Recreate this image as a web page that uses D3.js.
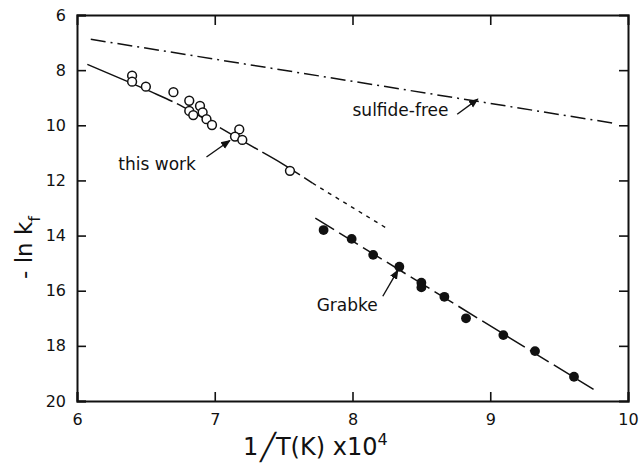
<!DOCTYPE html>
<html>
<head>
<meta charset="utf-8">
<script src="https://cdn.jsdelivr.net/npm/d3@7"></script>
<style>
  body { margin: 0; background: #fff; }
  text { font-family: "DejaVu Sans", sans-serif; fill: #111; }
</style>
</head>
<body>
<div id="grafico"></div>
<script>
// puntos "this work" (circulos abiertos)
let this_x = [6.40, 6.40, 6.50, 6.70, 6.815, 6.815, 6.893, 6.844, 6.912, 6.94, 6.98, 7.178, 7.147, 7.20, 7.546];
let this_y = [8.20, 8.42, 8.60, 8.80, 9.11, 9.48, 9.30, 9.63, 9.53, 9.78, 9.99, 10.15, 10.41, 10.53, 11.65];

// puntos Grabke (circulos rellenos)
let grabke_x = [7.79, 7.994, 8.15, 8.34, 8.50, 8.50, 8.667, 8.824, 9.095, 9.325, 9.608];
let grabke_y = [13.80, 14.12, 14.70, 15.13, 15.71, 15.88, 16.22, 17.00, 17.61, 18.19, 19.12];

// curvas
let ajuste_x = [6.075, 6.536, 6.77, 7.23, 7.486, 7.71];
let ajuste_y = [7.79, 8.78, 9.33, 10.65, 11.38, 12.10];
let extrap_x = [7.71, 8.24];
let extrap_y = [12.10, 13.71];
let grabke_lx = [7.73, 9.75];
let grabke_ly = [13.37, 19.58];
let libre_x = [6.10, 9.89];
let libre_y = [6.88, 9.92];

let ticks_x = [6, 7, 8, 9, 10];
let ticks_y = [6, 8, 10, 12, 14, 16, 18, 20];

let margin = {top: 15, right: 15, bottom: 64, left: 77},
    width = 643 - margin.left - margin.right,
    height = 465 - margin.top - margin.bottom;

let svg = d3.select("#grafico")
    .append("svg")
    .attr("width", 643)
    .attr("height", 465)
    .append("g")
    .attr("transform", "translate(" + margin.left + "," + margin.top + ")");

let x = d3.scaleLinear().domain([6, 10]).range([0, width]);
let y = d3.scaleLinear().domain([6, 20]).range([0, height]);

// ejes con ticks hacia dentro
svg.append("g")
    .attr("transform", "translate(0," + height + ")")
    .call(d3.axisBottom(x).tickValues(ticks_x).tickSize(-9).tickPadding(13).tickFormat(d3.format("d")));
svg.append("g")
    .call(d3.axisTop(x).tickValues(ticks_x.slice(1, -1)).tickSize(-10).tickFormat(""));
svg.append("g")
    .call(d3.axisLeft(y).tickValues(ticks_y).tickSize(-9).tickPadding(11).tickFormat(d3.format("d")));
svg.append("g")
    .attr("transform", "translate(" + width + ",0)")
    .call(d3.axisRight(y).tickValues(ticks_y.slice(1, -1)).tickSize(-9).tickFormat(""));

svg.selectAll(".domain").attr("stroke", "#111").attr("stroke-width", 2);
svg.selectAll(".tick line").attr("stroke", "#111").attr("stroke-width", 1.6);
svg.selectAll(".tick text").style("font-size", "16px").style("fill", "#111");

let linea = d3.line()
    .x(function (d) { return x(d[0]); })
    .y(function (d) { return y(d[1]); });

function pares(xs, ys) {
    return xs.map(function (v, i) { return [v, ys[i]]; });
}

svg.append("path")
    .attr("d", linea.curve(d3.curveCatmullRom)(pares(ajuste_x, ajuste_y)))
    .attr("fill", "none").attr("stroke", "#111").attr("stroke-width", 1.5)
    .attr("stroke-dasharray", "44,5");
linea.curve(d3.curveLinear);
svg.append("path")
    .attr("d", linea(pares(extrap_x, extrap_y)))
    .attr("fill", "none").attr("stroke", "#111").attr("stroke-width", 1.4)
    .attr("stroke-dasharray", "4,5");
svg.append("path")
    .attr("d", linea(pares(grabke_lx, grabke_ly)))
    .attr("fill", "none").attr("stroke", "#111").attr("stroke-width", 1.5)
    .attr("stroke-dasharray", "22,6");
svg.append("path")
    .attr("d", linea(pares(libre_x, libre_y)))
    .attr("fill", "none").attr("stroke", "#111").attr("stroke-width", 1.5)
    .attr("stroke-dasharray", "15,5,2,5");

svg.selectAll("circle.abierto")
    .data(pares(this_x, this_y))
    .enter()
    .append("circle")
    .attr("cx", function (d) { return x(d[0]); })
    .attr("cy", function (d) { return y(d[1]); })
    .attr("r", 4.4)
    .attr("fill", "#fff")
    .attr("stroke", "#111")
    .attr("stroke-width", 1.5);

svg.selectAll("circle.lleno")
    .data(pares(grabke_x, grabke_y))
    .enter()
    .append("circle")
    .attr("cx", function (d) { return x(d[0]); })
    .attr("cy", function (d) { return y(d[1]); })
    .attr("r", 4.9)
    .attr("fill", "#111");

// flechas de las anotaciones
let defs = svg.append("defs");
defs.append("marker")
    .attr("id", "punta")
    .attr("viewBox", "0 0 10 10")
    .attr("refX", 9).attr("refY", 5)
    .attr("markerWidth", 7).attr("markerHeight", 7)
    .attr("orient", "auto")
    .append("path")
    .attr("d", "M0,1 L10,5 L0,9 Z")
    .attr("fill", "#111");

let notas = [
    {texto: "sulfide-free", tx: 8.0, ty: 9.65, x1: 8.76, y1: 9.60, x2: 8.91, y2: 9.05},
    {texto: "this work", tx: 6.30, ty: 11.62, x1: 6.94, y1: 11.15, x2: 7.11, y2: 10.55},
    {texto: "Grabke", tx: 7.74, ty: 16.74, x1: 8.22, y1: 16.2, x2: 8.33, y2: 15.25}
];

notas.forEach(function (n) {
    svg.append("text")
        .attr("x", x(n.tx))
        .attr("y", y(n.ty))
        .style("font-size", "17px")
        .text(n.texto);
    svg.append("line")
        .attr("x1", x(n.x1)).attr("y1", y(n.y1))
        .attr("x2", x(n.x2)).attr("y2", y(n.y2))
        .attr("stroke", "#111").attr("stroke-width", 1.4)
        .attr("marker-end", "url(#punta)");
});

// etiqueta eje X
let ex = svg.append("text")
    .attr("x", 166)
    .attr("y", height + 54)
    .style("font-size", "24px");
ex.append("tspan").text("1");
ex.append("tspan").attr("dx", "2").attr("dy", "1").style("font-size", "26px").text("╱");
ex.append("tspan").attr("dy", "-1").text("T(K) x10");
ex.append("tspan").attr("dy", "-10").style("font-size", "16px").text("4");

// etiqueta eje Y
let ey = svg.append("text")
    .attr("text-anchor", "start")
    .attr("transform", "translate(" + (-45) + "," + (y(15.5) + 2) + ") rotate(-90)")
    .style("font-size", "23px");
ey.append("tspan").text("- ln k");
ey.append("tspan").attr("dy", "8").style("font-size", "16px").text("f");
</script>
</body>
</html>
